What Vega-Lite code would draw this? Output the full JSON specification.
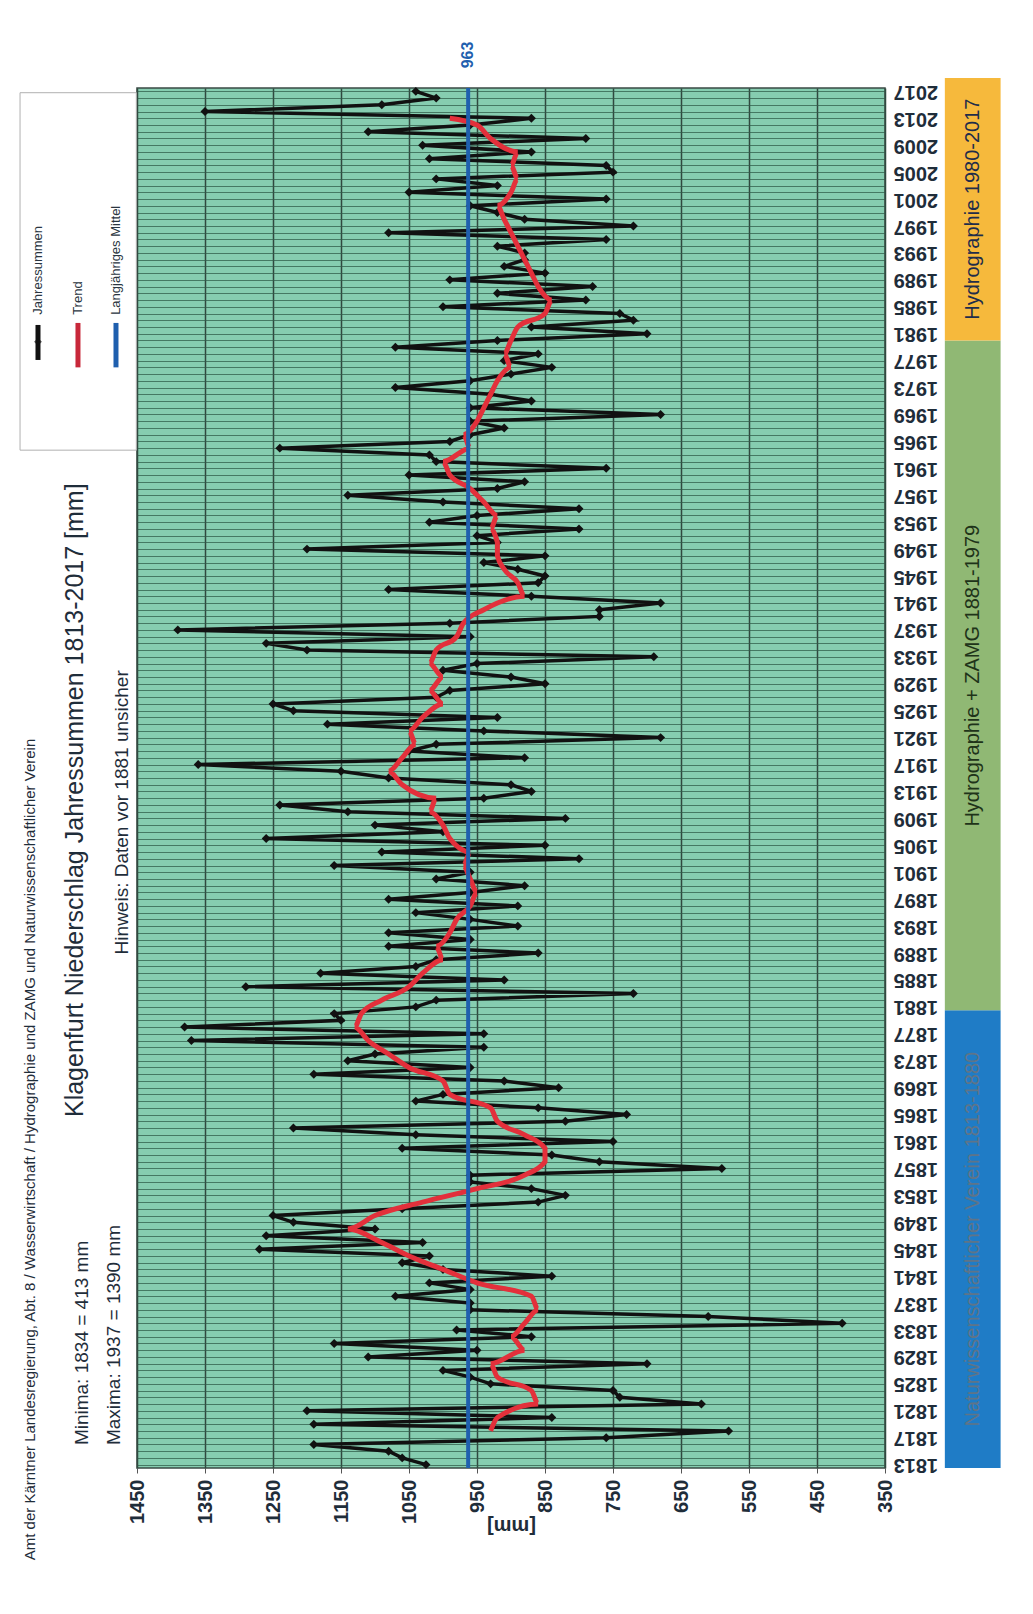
{
  "$schema": "https://vega.github.io/schema/vega-lite/v6.json",
  "width": 748,
  "height": 1380,
  "autosize": {"type": "none"},
  "padding": {"left": 137, "top": 88, "right": 148, "bottom": 146},
  "background": "#ffffff",
  "config": {
    "view": {"fill": "#86cdb0", "stroke": "#3a4a44", "strokeWidth": 1.5},
    "font": "Liberation Sans"
  },
  "datasets": {
    "annual": [
      {"year":1813,"mm":1025},{"year":1814,"mm":1060},{"year":1815,"mm":1080},{"year":1816,"mm":1190},{"year":1817,"mm":760},
      {"year":1818,"mm":580},{"year":1819,"mm":1190},{"year":1820,"mm":840},{"year":1821,"mm":1200},{"year":1822,"mm":620},
      {"year":1823,"mm":740},{"year":1824,"mm":750},{"year":1825,"mm":930},{"year":1826,"mm":960},{"year":1827,"mm":1000},
      {"year":1828,"mm":700},{"year":1829,"mm":1110},{"year":1830,"mm":950},{"year":1831,"mm":1160},{"year":1832,"mm":870},
      {"year":1833,"mm":980},{"year":1834,"mm":413},{"year":1835,"mm":610},{"year":1836,"mm":960},{"year":1837,"mm":960},
      {"year":1838,"mm":1070},{"year":1839,"mm":960},{"year":1840,"mm":1020},{"year":1841,"mm":840},{"year":1842,"mm":1000},
      {"year":1843,"mm":1060},{"year":1844,"mm":1020},{"year":1845,"mm":1270},{"year":1846,"mm":1030},{"year":1847,"mm":1260},
      {"year":1848,"mm":1100},{"year":1849,"mm":1220},{"year":1850,"mm":1250},{"year":1851,"mm":1060},{"year":1852,"mm":860},
      {"year":1853,"mm":820},{"year":1854,"mm":870},{"year":1855,"mm":960},{"year":1856,"mm":960},{"year":1857,"mm":590},
      {"year":1858,"mm":770},{"year":1859,"mm":840},{"year":1860,"mm":1060},{"year":1861,"mm":750},{"year":1862,"mm":1040},
      {"year":1863,"mm":1220},{"year":1864,"mm":820},{"year":1865,"mm":730},{"year":1866,"mm":860},{"year":1867,"mm":1040},
      {"year":1868,"mm":1000},{"year":1869,"mm":830},{"year":1870,"mm":910},{"year":1871,"mm":1190},{"year":1872,"mm":960},
      {"year":1873,"mm":1140},{"year":1874,"mm":1100},{"year":1875,"mm":940},{"year":1876,"mm":1370},{"year":1877,"mm":940},
      {"year":1878,"mm":1380},{"year":1879,"mm":1150},{"year":1880,"mm":1160},{"year":1881,"mm":1040},{"year":1882,"mm":1010},
      {"year":1883,"mm":720},{"year":1884,"mm":1290},{"year":1885,"mm":910},{"year":1886,"mm":1180},{"year":1887,"mm":1040},
      {"year":1888,"mm":1010},{"year":1889,"mm":860},{"year":1890,"mm":1080},{"year":1891,"mm":960},{"year":1892,"mm":1080},
      {"year":1893,"mm":890},{"year":1894,"mm":960},{"year":1895,"mm":1040},{"year":1896,"mm":890},{"year":1897,"mm":1080},
      {"year":1898,"mm":960},{"year":1899,"mm":880},{"year":1900,"mm":1010},{"year":1901,"mm":960},{"year":1902,"mm":1160},
      {"year":1903,"mm":800},{"year":1904,"mm":1090},{"year":1905,"mm":850},{"year":1906,"mm":1260},{"year":1907,"mm":1000},
      {"year":1908,"mm":1100},{"year":1909,"mm":820},{"year":1910,"mm":1140},{"year":1911,"mm":1240},{"year":1912,"mm":940},
      {"year":1913,"mm":870},{"year":1914,"mm":900},{"year":1915,"mm":1080},{"year":1916,"mm":1150},{"year":1917,"mm":1360},
      {"year":1918,"mm":880},{"year":1919,"mm":1050},{"year":1920,"mm":1010},{"year":1921,"mm":680},{"year":1922,"mm":940},
      {"year":1923,"mm":1170},{"year":1924,"mm":920},{"year":1925,"mm":1220},{"year":1926,"mm":1250},{"year":1927,"mm":1010},
      {"year":1928,"mm":990},{"year":1929,"mm":850},{"year":1930,"mm":900},{"year":1931,"mm":1000},{"year":1932,"mm":950},
      {"year":1933,"mm":690},{"year":1934,"mm":1200},{"year":1935,"mm":1260},{"year":1936,"mm":960},{"year":1937,"mm":1390},
      {"year":1938,"mm":990},{"year":1939,"mm":770},{"year":1940,"mm":770},{"year":1941,"mm":680},{"year":1942,"mm":870},
      {"year":1943,"mm":1080},{"year":1944,"mm":860},{"year":1945,"mm":850},{"year":1946,"mm":890},{"year":1947,"mm":940},
      {"year":1948,"mm":850},{"year":1949,"mm":1200},{"year":1950,"mm":920},{"year":1951,"mm":950},{"year":1952,"mm":800},
      {"year":1953,"mm":1020},{"year":1954,"mm":950},{"year":1955,"mm":800},{"year":1956,"mm":1000},{"year":1957,"mm":1140},
      {"year":1958,"mm":920},{"year":1959,"mm":880},{"year":1960,"mm":1050},{"year":1961,"mm":760},{"year":1962,"mm":1010},
      {"year":1963,"mm":1020},{"year":1964,"mm":1240},{"year":1965,"mm":990},{"year":1966,"mm":960},{"year":1967,"mm":910},
      {"year":1968,"mm":960},{"year":1969,"mm":680},{"year":1970,"mm":960},{"year":1971,"mm":870},{"year":1972,"mm":930},
      {"year":1973,"mm":1070},{"year":1974,"mm":960},{"year":1975,"mm":900},{"year":1976,"mm":840},{"year":1977,"mm":910},
      {"year":1978,"mm":860},{"year":1979,"mm":1070},{"year":1980,"mm":920},{"year":1981,"mm":700},{"year":1982,"mm":870},
      {"year":1983,"mm":720},{"year":1984,"mm":740},{"year":1985,"mm":1000},{"year":1986,"mm":790},{"year":1987,"mm":920},
      {"year":1988,"mm":780},{"year":1989,"mm":990},{"year":1990,"mm":850},{"year":1991,"mm":910},{"year":1992,"mm":880},
      {"year":1993,"mm":880},{"year":1994,"mm":920},{"year":1995,"mm":760},{"year":1996,"mm":1080},{"year":1997,"mm":720},
      {"year":1998,"mm":880},{"year":1999,"mm":920},{"year":2000,"mm":960},{"year":2001,"mm":760},{"year":2002,"mm":1050},
      {"year":2003,"mm":920},{"year":2004,"mm":1010},{"year":2005,"mm":750},{"year":2006,"mm":760},{"year":2007,"mm":1020},
      {"year":2008,"mm":870},{"year":2009,"mm":1030},{"year":2010,"mm":790},{"year":2011,"mm":1110},{"year":2012,"mm":960},
      {"year":2013,"mm":870},{"year":2014,"mm":1350},{"year":2015,"mm":1090},{"year":2016,"mm":1010},{"year":2017,"mm":1040}
    ],
    "trend": [
      {"year":1818,"mm":930},{"year":1820,"mm":920},{"year":1822,"mm":860},{"year":1824,"mm":870},{"year":1826,"mm":920},
      {"year":1828,"mm":930},{"year":1830,"mm":880},{"year":1832,"mm":900},{"year":1834,"mm":880},{"year":1836,"mm":860},
      {"year":1838,"mm":870},{"year":1840,"mm":950},{"year":1842,"mm":1000},{"year":1844,"mm":1050},{"year":1846,"mm":1090},
      {"year":1848,"mm":1140},{"year":1850,"mm":1100},{"year":1852,"mm":1030},{"year":1854,"mm":950},{"year":1856,"mm":880},
      {"year":1858,"mm":850},{"year":1860,"mm":850},{"year":1862,"mm":880},{"year":1864,"mm":920},{"year":1866,"mm":930},
      {"year":1868,"mm":990},{"year":1870,"mm":1000},{"year":1872,"mm":1050},{"year":1874,"mm":1080},{"year":1876,"mm":1110},
      {"year":1878,"mm":1130},{"year":1880,"mm":1120},{"year":1882,"mm":1090},{"year":1884,"mm":1050},{"year":1886,"mm":1030},
      {"year":1888,"mm":1000},{"year":1890,"mm":1010},{"year":1892,"mm":990},{"year":1894,"mm":980},{"year":1896,"mm":960},
      {"year":1898,"mm":950},{"year":1900,"mm":960},{"year":1902,"mm":970},{"year":1904,"mm":960},{"year":1906,"mm":990},
      {"year":1908,"mm":1000},{"year":1910,"mm":1020},{"year":1912,"mm":1010},{"year":1914,"mm":1060},{"year":1916,"mm":1080},
      {"year":1918,"mm":1060},{"year":1920,"mm":1040},{"year":1922,"mm":1050},{"year":1924,"mm":1030},{"year":1926,"mm":1000},
      {"year":1928,"mm":1020},{"year":1930,"mm":1000},{"year":1932,"mm":1020},{"year":1934,"mm":1010},{"year":1936,"mm":980},
      {"year":1938,"mm":970},{"year":1940,"mm":940},{"year":1942,"mm":880},{"year":1944,"mm":890},{"year":1946,"mm":910},
      {"year":1948,"mm":920},{"year":1950,"mm":920},{"year":1952,"mm":930},{"year":1954,"mm":920},{"year":1956,"mm":940},
      {"year":1958,"mm":960},{"year":1960,"mm":990},{"year":1962,"mm":1000},{"year":1964,"mm":960},{"year":1966,"mm":970},
      {"year":1968,"mm":950},{"year":1970,"mm":940},{"year":1972,"mm":930},{"year":1974,"mm":920},{"year":1976,"mm":900},
      {"year":1978,"mm":910},{"year":1980,"mm":900},{"year":1982,"mm":890},{"year":1984,"mm":850},{"year":1986,"mm":840},
      {"year":1988,"mm":860},{"year":1990,"mm":870},{"year":1992,"mm":880},{"year":1994,"mm":890},{"year":1996,"mm":900},
      {"year":1998,"mm":910},{"year":2000,"mm":920},{"year":2002,"mm":900},{"year":2004,"mm":890},{"year":2006,"mm":900},
      {"year":2008,"mm":890},{"year":2010,"mm":930},{"year":2012,"mm":950},{"year":2013,"mm":990}
    ],
    "bands": [
      {"y1":1812.5,"y2":1880.5,"x1":262,"x2":180,"color":"#1f7cc6","label":"Naturwissenschaftlicher Verein 1813-1880","tcolor":"#5f7488","ym":1846.5},
      {"y1":1880.5,"y2":1980,"x1":262,"x2":180,"color":"#90b874","label":"Hydrographie + ZAMG 1881-1979","tcolor":"#1e3319","ym":1930.2},
      {"y1":1980,"y2":2019,"x1":262,"x2":180,"color":"#f6b93c","label":"Hydrographie 1980-2017","tcolor":"#1f2d4a","ym":1999.5}
    ]
  },
  "layer": [
    {
      "data": {"name": "annual"},
      "mark": {"type": "line", "color": "#111111", "strokeWidth": 3.5},
      "encoding": {
        "x": {"field": "mm", "type": "quantitative",
          "scale": {"domain": [1450, 350], "nice": false},
          "axis": {"values": [1450,1350,1250,1150,1050,950,850,750,650,550,450,350], "format": "d",
            "title": "[mm]", "titleAngle": 180, "titleFontSize": 20, "titleFontWeight": "bold", "titlePadding": 12, "titleColor": "#1f2d3a",
            "labelAngle": -90, "labelAlign": "right", "labelBaseline": "middle", "labelFontSize": 20, "labelFontWeight": "bold", "labelColor": "#1f2d3a",
            "grid": true, "gridColor": "#30483f", "gridWidth": 1.5, "domain": false, "tickColor": "#555", "labelPadding": 6}},
        "y": {"field": "year", "type": "quantitative",
          "scale": {"domain": [1812.5, 2017.5], "nice": false, "zero": false},
          "axis": {"orient": "right", "tickCount": 205, "values": {"expr": "sequence(1813, 2018)"}, "format": "d",
            "labelExpr": "(datum.value - 1813) % 4 == 0 ? datum.value : ''", "labelAngle": 180, "labelAlign": "right", "labelBaseline": "middle",
            "labelFontSize": 20, "labelFontWeight": "bold", "labelColor": "#1f2d3a", "labelPadding": 8,
            "grid": true, "gridColor": "#2f5c49", "gridWidth": 1, "gridOpacity": 0.75, "ticks": false, "domain": false, "title": null, "labelOverlap": false}},
        "order": {"field": "year", "type": "quantitative"}
      }
    },
    {
      "data": {"name": "annual"},
      "mark": {"type": "point", "shape": "diamond", "filled": true, "color": "#111111", "size": 80, "opacity": 1},
      "encoding": {"x": {"field": "mm", "type": "quantitative"}, "y": {"field": "year", "type": "quantitative"}}
    },
    {
      "data": {"name": "trend"},
      "mark": {"type": "line", "color": "#e3303b", "strokeWidth": 5, "interpolate": "monotone"},
      "encoding": {"x": {"field": "mm", "type": "quantitative"}, "y": {"field": "year", "type": "quantitative"}, "order": {"field": "year", "type": "quantitative"}}
    },
    {
      "data": {"values": [{"mm": 963}]},
      "mark": {"type": "rule", "color": "#1f5fae", "strokeWidth": 4},
      "encoding": {"x": {"field": "mm", "type": "quantitative"}}
    },
    {
      "data": {"values": [{"mm": 963, "year": 2022.4, "t": "963"}]},
      "mark": {"type": "text", "angle": -90, "color": "#1f5fae", "fontSize": 16, "fontWeight": "bold", "clip": false},
      "encoding": {"x": {"field": "mm", "type": "quantitative"}, "y": {"field": "year", "type": "quantitative"}, "text": {"field": "t"}}
    },
    {
      "data": {"name": "bands"},
      "mark": {"type": "rect", "clip": false},
      "encoding": {"y": {"field": "y1", "type": "quantitative"}, "y2": {"field": "y2"}, "x": {"field": "x1", "type": "quantitative"}, "x2": {"field": "x2"},
        "color": {"field": "color", "type": "nominal", "scale": null}}
    },
    {
      "data": {"name": "bands"},
      "mark": {"type": "text", "angle": -90, "fontSize": 20, "clip": false, "align": "center", "baseline": "middle"},
      "encoding": {"y": {"field": "ym", "type": "quantitative"}, "x": {"datum": 221, "type": "quantitative"},
        "text": {"field": "label"}, "color": {"field": "tcolor", "type": "nominal", "scale": null}}
    },
    {
      "data": {"values": [{"x1": 1622, "x2": 1451, "y1": 2016.8, "y2": 1963.7}]},
      "mark": {"type": "rect", "fill": "#ffffff", "stroke": "#b0b0b0", "strokeWidth": 1, "clip": false},
      "encoding": {"x": {"field": "x1", "type": "quantitative"}, "x2": {"field": "x2"}, "y": {"field": "y1", "type": "quantitative"}, "y2": {"field": "y2"}}
    },
    {
      "data": {"values": [
        {"x": 1595.6, "y1": 1982.3, "y2": 1977.1, "c": "#111111"},
        {"x": 1536.8, "y1": 1982.6, "y2": 1976.0, "c": "#c8283a"},
        {"x": 1480.9, "y1": 1982.6, "y2": 1976.0, "c": "#1f5fae"}
      ]},
      "mark": {"type": "rule", "strokeWidth": 5, "clip": false},
      "encoding": {"x": {"field": "x", "type": "quantitative"}, "y": {"field": "y1", "type": "quantitative"}, "y2": {"field": "y2"},
        "color": {"field": "c", "type": "nominal", "scale": null}}
    },
    {
      "data": {"values": [{"x": 1595.6, "y": 1979.8}]},
      "mark": {"type": "point", "shape": "diamond", "filled": true, "color": "#111111", "size": 60, "clip": false},
      "encoding": {"x": {"field": "x", "type": "quantitative"}, "y": {"field": "y", "type": "quantitative"}}
    },
    {
      "data": {"values": [
        {"x": 1595.6, "y": 1983.8, "t": "Jahressummen"},
        {"x": 1536.8, "y": 1983.8, "t": "Trend"},
        {"x": 1480.9, "y": 1983.8, "t": "Langjähriges Mittel"}
      ]},
      "mark": {"type": "text", "angle": -90, "align": "left", "baseline": "middle", "fontSize": 13, "color": "#2a3540", "clip": false},
      "encoding": {"x": {"field": "x", "type": "quantitative"}, "y": {"field": "y", "type": "quantitative"}, "text": {"field": "t"}}
    },
    {
      "data": {"values": [
        {"x": 1607, "y": 1798.8, "t": "Amt der Kärntner Landesregierung, Abt. 8 / Wasserwirtschaft / Hydrographie  und ZAMG und Naturwissenschaftlicher Verein", "s": 15},
        {"x": 1531, "y": 1815.9, "t": "Minima: 1834 = 413 mm", "s": 19},
        {"x": 1484, "y": 1815.9, "t": "Maxima: 1937 = 1390 mm", "s": 19}
      ]},
      "mark": {"type": "text", "angle": -90, "align": "left", "baseline": "middle", "color": "#1f2d3a", "clip": false},
      "encoding": {"x": {"field": "x", "type": "quantitative"}, "y": {"field": "y", "type": "quantitative"}, "text": {"field": "t"},
        "size": {"field": "s", "type": "quantitative", "scale": null}}
    },
    {
      "data": {"values": [
        {"x": 1541, "y": 1911.7, "t": "Klagenfurt Niederschlag Jahressummen 1813-2017 [mm]", "s": 25, "w": "bold"},
        {"x": 1472, "y": 1909.9, "t": "Hinweis: Daten vor 1881 unsicher", "s": 19, "w": "normal"}
      ]},
      "mark": {"type": "text", "angle": -90, "align": "center", "baseline": "middle", "color": "#1f2d3a", "clip": false},
      "encoding": {"x": {"field": "x", "type": "quantitative"}, "y": {"field": "y", "type": "quantitative"}, "text": {"field": "t"},
        "size": {"field": "s", "type": "quantitative", "scale": null},
        "fontWeight": {"field": "w", "type": "nominal", "scale": null}}
    }
  ]
}
